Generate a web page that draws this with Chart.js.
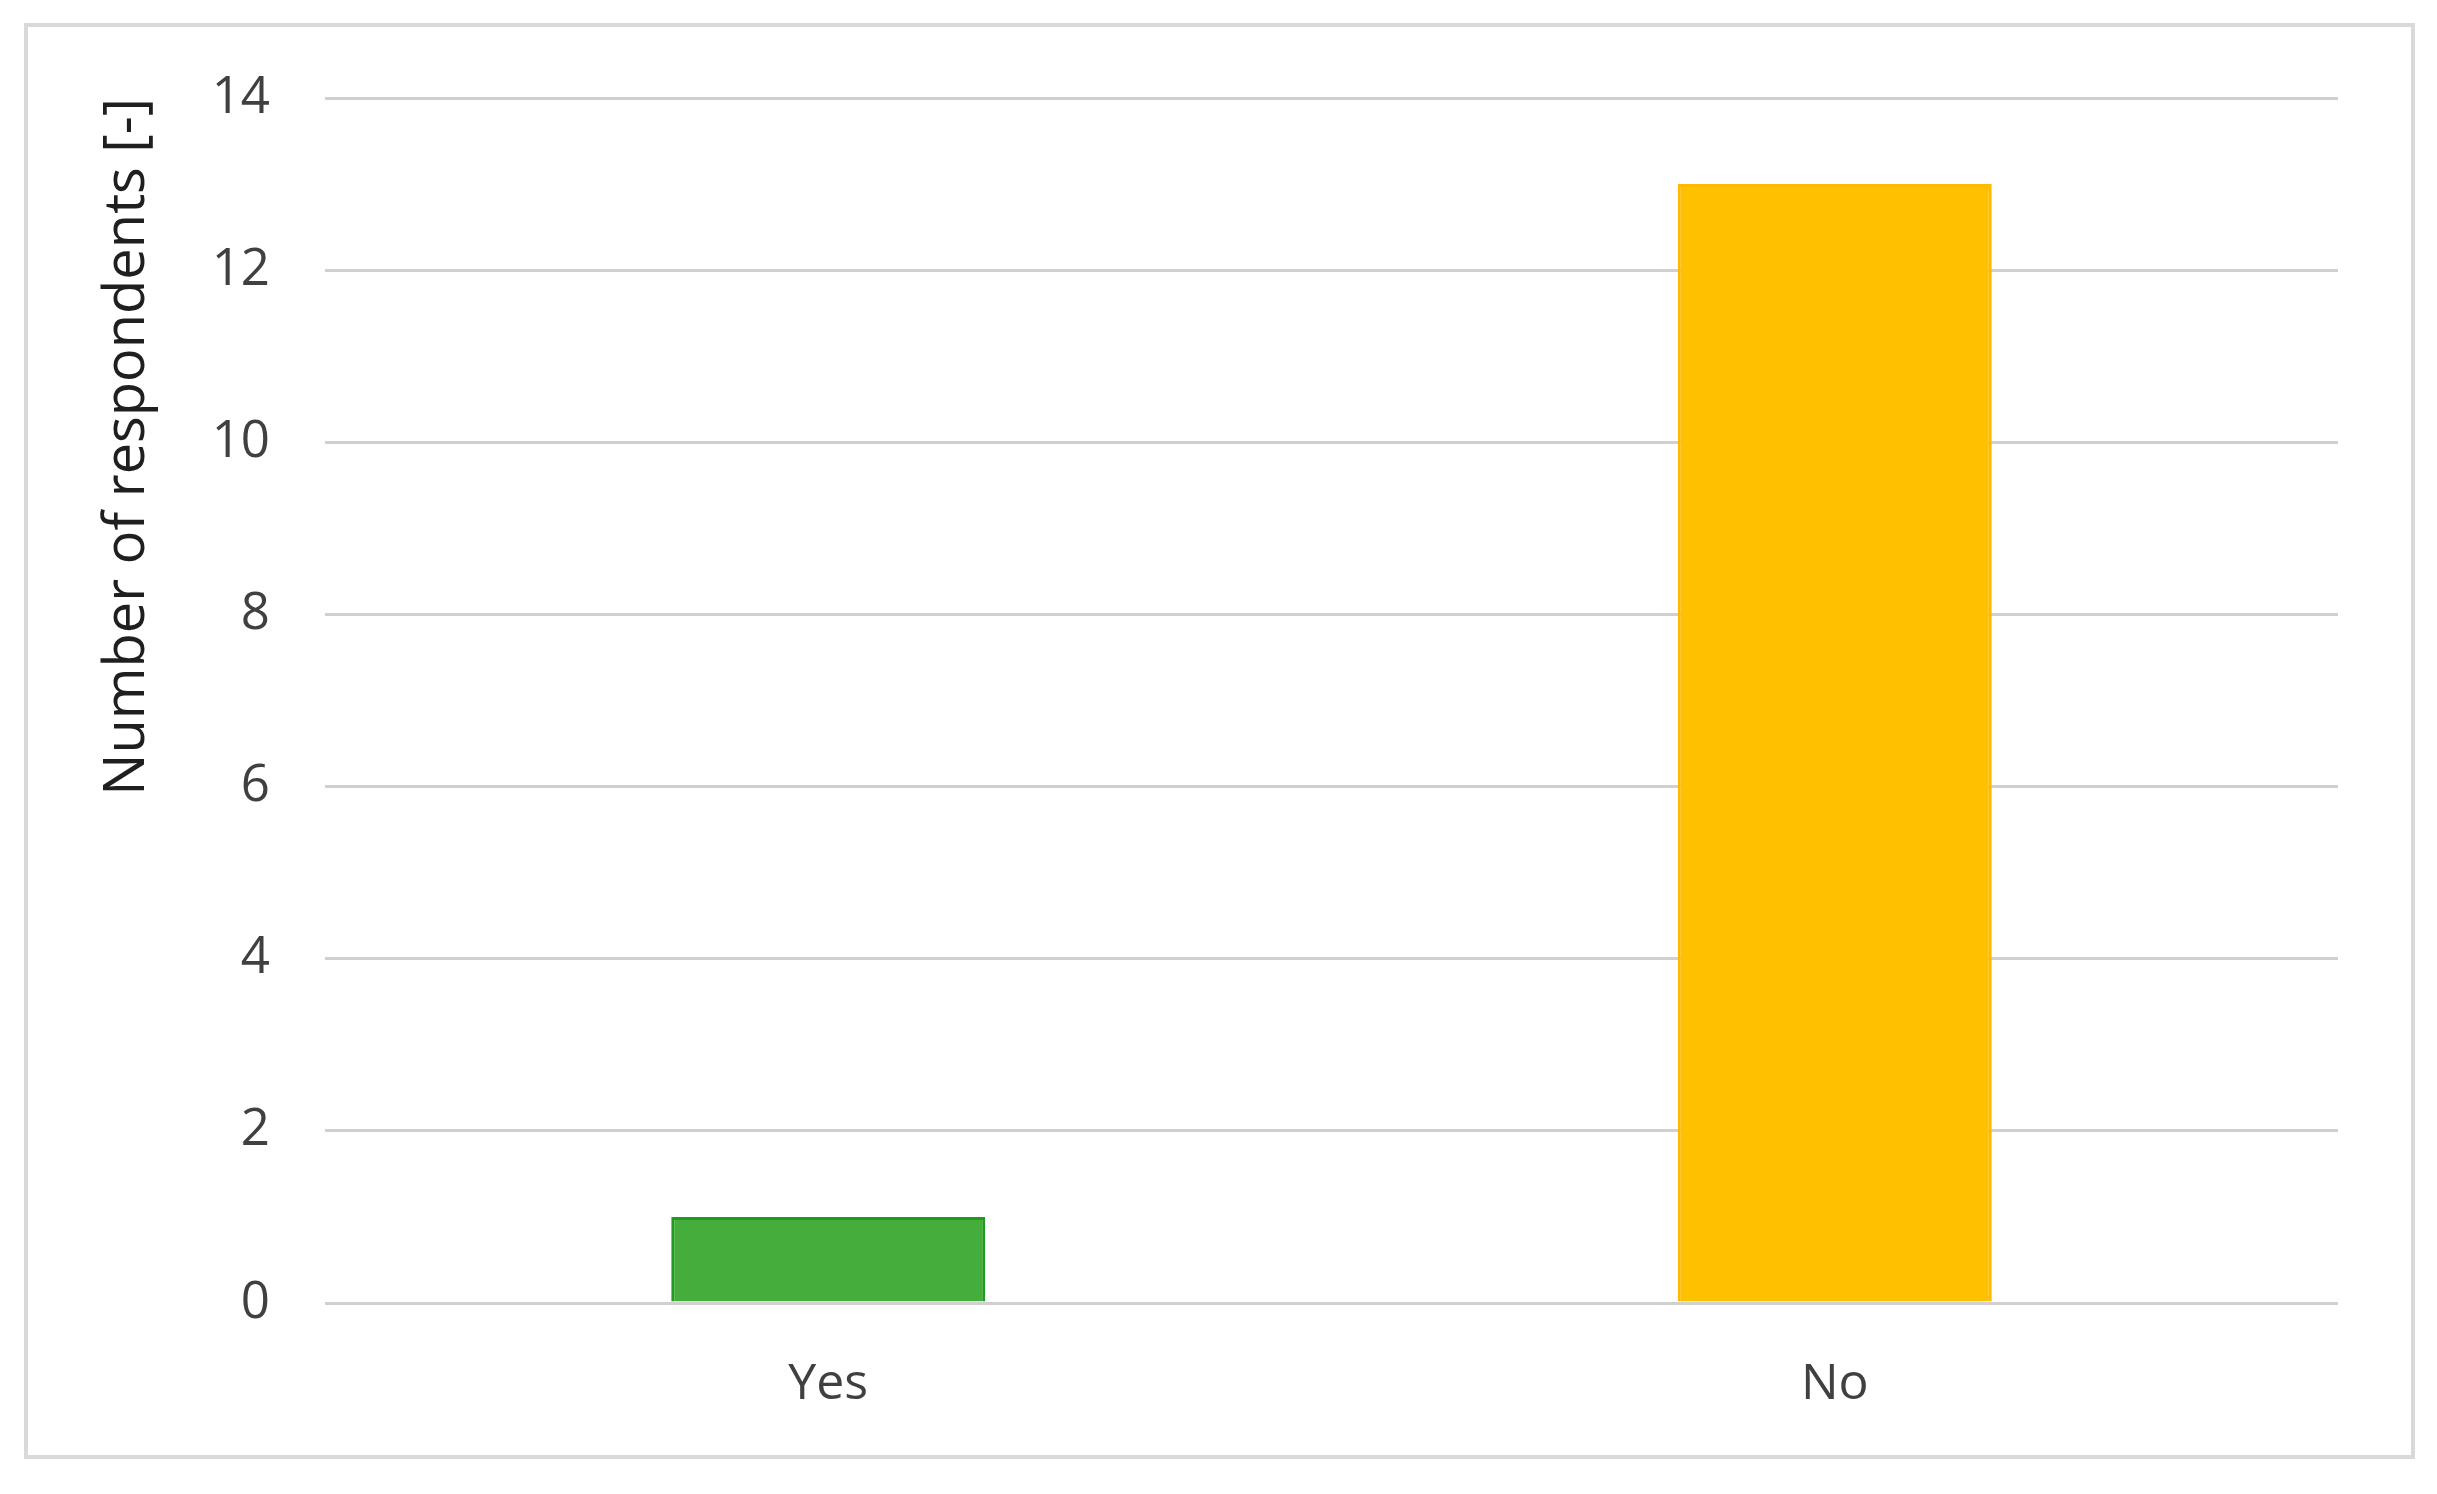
<!DOCTYPE html>
<html>
<head>
<meta charset="utf-8">
<script src="https://cdn.jsdelivr.net/npm/chart.js@4.4.1/dist/chart.umd.min.js"></script>
<style>
  html, body { margin: 0; padding: 0; background: #ffffff; }
  #wrap { position: relative; width: 2437px; height: 1494px; }
  #frame {
    position: absolute; left: 24px; top: 23px; width: 2391px; height: 1436px;
    box-sizing: border-box; border: 4px solid #d9d9d9; pointer-events: none;
  }
</style>
</head>
<body>
<div id="wrap">
  <canvas id="answersChart" width="2437" height="1494"></canvas>
  <div id="frame"></div>
</div>
<script>
// data
const categories = ['Yes', 'No'];
const respondents = [1, 13];
const barColors = ['#45ad3b', '#ffc000'];
const barBorders = ['#1f9c1f', '#ffb900'];
const yTicks = [0, 2, 4, 6, 8, 10, 12, 14];

const ctx = document.getElementById('answersChart').getContext('2d');

new Chart(ctx, {
  type: 'bar',
  data: {
    labels: categories,
    datasets: [
      {
        label: 'Number of respondents',
        data: respondents,
        backgroundColor: barColors,
        borderColor: barBorders,
        borderWidth: 3,
        categoryPercentage: 1,
        barPercentage: 0.312,
      },
    ],
  },
  options: {
    responsive: false,
    animation: false,
    layout: {
      padding: { top: 98, right: 99, bottom: 0, left: 0 },
    },
    plugins: {
      legend: { display: false },
      tooltip: { enabled: false },
    },
    scales: {
      x: {
        grid: { display: false },
        border: { display: false },
        ticks: {
          color: '#404040',
          padding: 44,
          font: { family: 'Open Sans', size: 50 },
        },
        afterFit: (scale) => {
          scale.height = 191;
        },
      },
      y: {
        min: yTicks[0],
        max: yTicks[yTicks.length - 1],
        afterBuildTicks: (scale) => {
          scale.ticks = yTicks.map((v) => ({ value: v }));
        },
        grid: { color: '#d0d0d0', lineWidth: 3, drawTicks: false },
        border: { display: false },
        ticks: {
          color: '#404040',
          padding: 55,
          font: { family: 'Open Sans', size: 51 },
        },
        title: {
          display: true,
          text: 'Number of respondents [-]',
          align: 'end',
          color: '#1f1f1f',
          padding: { top: 94, bottom: 0 },
          font: { family: 'Open Sans', size: 56 },
        },
        afterFit: (scale) => {
          scale.width = 325;
        },
      },
    },
  },
});
</script>
</body>
</html>
